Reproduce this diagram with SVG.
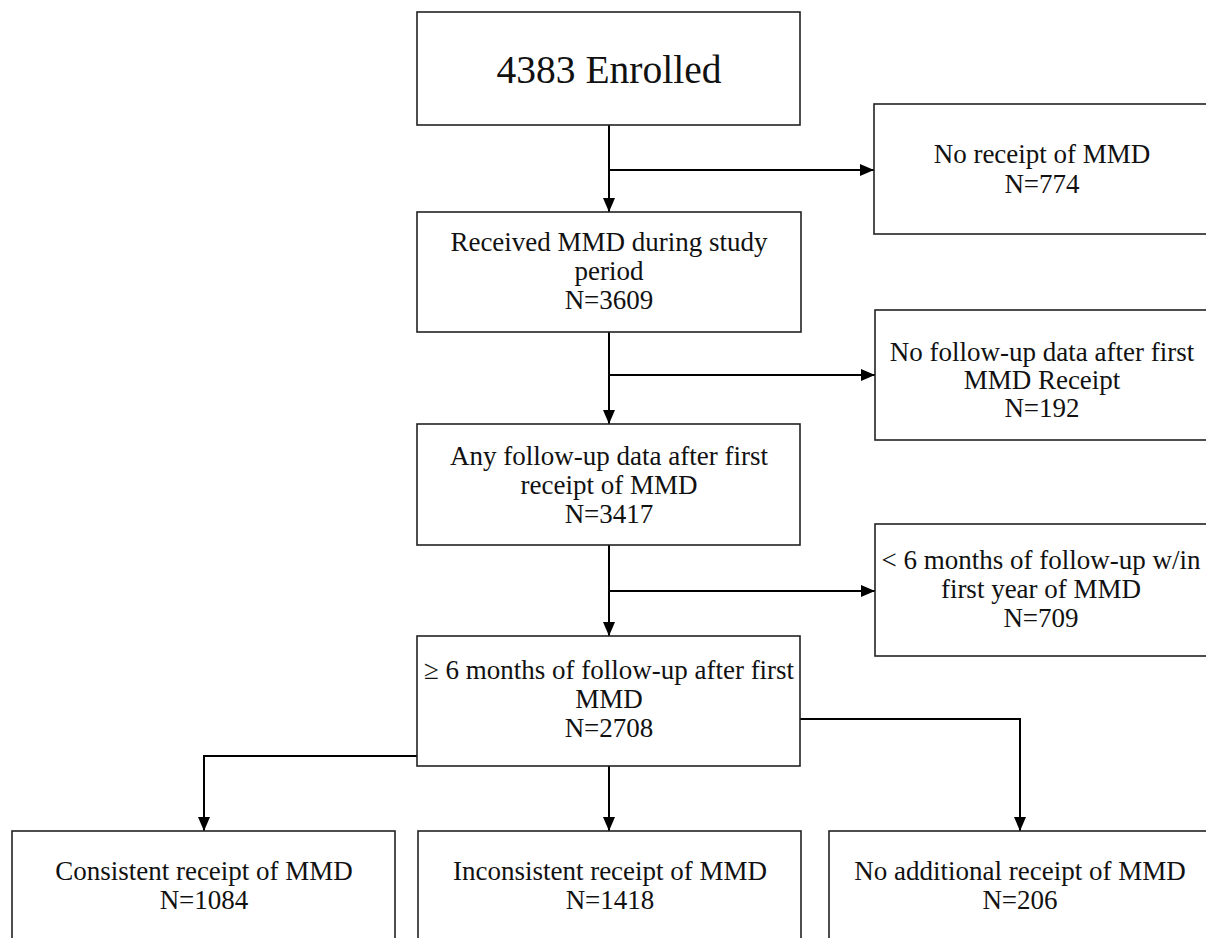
<svg xmlns="http://www.w3.org/2000/svg" width="1206" height="938" viewBox="0 0 1206 938">
<style>
.box{fill:#fff;stroke:#222;stroke-width:1.6}
.t{font-family:"Liberation Serif","Times New Roman",serif;font-size:27px;fill:#111;text-anchor:middle}
.big{font-size:39.5px}
.c{fill:none;stroke:#000;stroke-width:2}
</style>
<defs>
<marker id="ah" markerUnits="userSpaceOnUse" markerWidth="14" markerHeight="12" refX="14" refY="6" orient="auto">
<path d="M0,0 L14,6 L0,12 z" fill="#000"/>
</marker>
</defs>
<rect width="1206" height="938" fill="#fff"/>
<g id="connectors">
<path class="c" d="M609,125 V212" marker-end="url(#ah)"/>
<path class="c" d="M609,170 H874" marker-end="url(#ah)"/>
<path class="c" d="M609,332 V424" marker-end="url(#ah)"/>
<path class="c" d="M609,375 H875" marker-end="url(#ah)"/>
<path class="c" d="M609,545 V636" marker-end="url(#ah)"/>
<path class="c" d="M609,591 H875" marker-end="url(#ah)"/>
<path class="c" d="M417,756 H204 V831" marker-end="url(#ah)"/>
<path class="c" d="M609,766 V831" marker-end="url(#ah)"/>
<path class="c" d="M800,719 H1020 V831" marker-end="url(#ah)"/>
</g>
<g id="enrolled">
<rect class="box" x="417" y="12" width="383" height="113"/>
<text class="t big" x="609" y="83">4383 Enrolled</text>
</g>
<g id="no-receipt">
<rect class="box" x="874" y="104" width="340" height="130"/>
<text class="t" x="1042" y="163">No receipt of MMD</text>
<text class="t" x="1042" y="193">N=774</text>
</g>
<g id="received">
<rect class="box" x="417" y="212" width="384" height="120"/>
<text class="t" x="609" y="251">Received MMD during study</text>
<text class="t" x="609" y="280">period</text>
<text class="t" x="609" y="309">N=3609</text>
</g>
<g id="no-followup">
<rect class="box" x="875" y="310" width="340" height="130"/>
<text class="t" x="1042" y="361">No follow-up data after first</text>
<text class="t" x="1042" y="389">MMD Receipt</text>
<text class="t" x="1042" y="417">N=192</text>
</g>
<g id="any-followup">
<rect class="box" x="417" y="424" width="383" height="121"/>
<text class="t" x="609" y="465">Any follow-up data after first</text>
<text class="t" x="609" y="494">receipt of MMD</text>
<text class="t" x="609" y="523">N=3417</text>
</g>
<g id="lt6">
<rect class="box" x="875" y="524" width="340" height="132"/>
<text class="t" x="1041" y="569">&lt; 6 months of follow-up w/in</text>
<text class="t" x="1041" y="598">first year of MMD</text>
<text class="t" x="1041" y="627">N=709</text>
</g>
<g id="ge6">
<rect class="box" x="417" y="636" width="383" height="130"/>
<text class="t" x="609" y="679">≥ 6 months of follow-up after first</text>
<text class="t" x="609" y="708">MMD</text>
<text class="t" x="609" y="737">N=2708</text>
</g>
<g id="consistent">
<rect class="box" x="12" y="831" width="383" height="120"/>
<text class="t" x="204" y="880">Consistent receipt of MMD</text>
<text class="t" x="204" y="909">N=1084</text>
</g>
<g id="inconsistent">
<rect class="box" x="418" y="831" width="383" height="120"/>
<text class="t" x="610" y="880">Inconsistent receipt of MMD</text>
<text class="t" x="610" y="909">N=1418</text>
</g>
<g id="no-additional">
<rect class="box" x="829" y="831" width="390" height="120"/>
<text class="t" x="1020" y="880">No additional receipt of MMD</text>
<text class="t" x="1020" y="909">N=206</text>
</g>
</svg>
